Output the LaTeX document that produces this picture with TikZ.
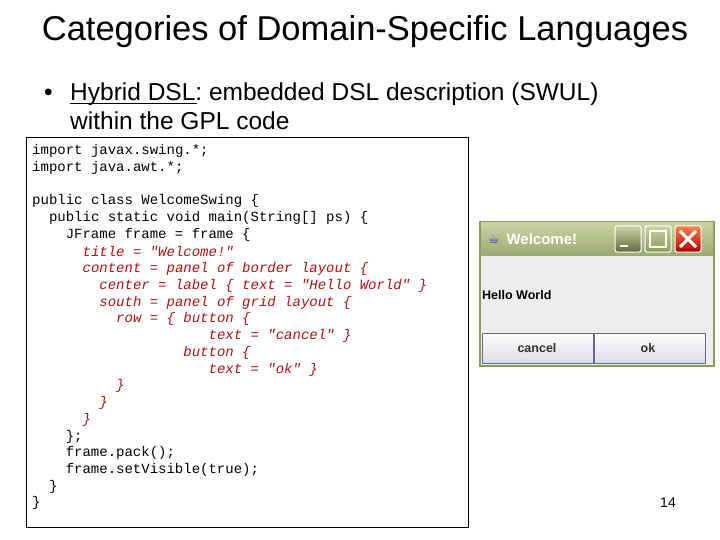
\documentclass[tikz,border=0pt]{standalone}
\usepackage{fontspec}
\setmainfont{Liberation Sans}
\setmonofont{Liberation Mono}
\newfontfamily\djv{DejaVu Sans}
\usepackage{xcolor}
\definecolor{codered}{HTML}{B01010}
\definecolor{olive1}{HTML}{C9D3A4}
\definecolor{olive2}{HTML}{8C9A5C}
\definecolor{winbg}{HTML}{EEEEEE}
\begin{document}
\begin{tikzpicture}[x=1pt,y=-1pt,
  codeline/.style={anchor=base west,inner sep=0pt,font=\fontsize{14}{16}\ttfamily},
  redline/.style={codeline,text=codered,font=\fontsize{14}{16}\ttfamily\itshape},
  tbtn/.style={draw=white,line width=1pt,rounded corners=2pt},
  btn/.style={draw=gray!80!blue,line width=1pt,top color=white,bottom color=blue!12!gray!25}]
\useasboundingbox (0,0) rectangle (720,540);
\node[font=\fontsize{34.5}{38}\selectfont] (title) at (365,32) {Categories of Domain-Specific Languages};
\node[font=\fontsize{24.5}{28}\selectfont,anchor=base west,inner sep=0pt] (bul) at (44,101) {•};
\node[font=\fontsize{24.5}{28}\selectfont,anchor=base west,inner sep=0pt] (txt1) at (70,101) {Hybrid DSL: embedded DSL description (SWUL)};
\node[font=\fontsize{24.5}{28}\selectfont,anchor=base west,inner sep=0pt] (txt2) at (70,130) {within the GPL code};
\draw[line width=1pt] (70,104) -- (197,104);
\draw[line width=1pt] (26,138) rectangle (468,527);
\newcommand\ind[1]{\hspace*{#1\dimexpr 8.4pt\relax}}
\node[codeline] (l1) at (32,155) {import javax.swing.*;};
\node[codeline] (l2) at (32,172) {import java.awt.*;};
\node[codeline] (l3) at (32,205) {public class WelcomeSwing \{};
\node[codeline] (l4) at (32,222) {\ind{2}public static void main(String[] ps) \{};
\node[codeline] (l5) at (32,239) {\ind{4}JFrame frame = frame \{};
\node[redline] (l6) at (32,256) {\ind{6}title = "Welcome!"};
\node[redline] (l7) at (32,272) {\ind{6}content = panel of border layout \{};
\node[redline] (l8) at (32,289) {\ind{8}center = label \{ text = "Hello World" \}};
\node[redline] (l9) at (32,306) {\ind{8}south = panel of grid layout \{};
\node[redline] (l10) at (32,322) {\ind{10}row = \{ button \{};
\node[redline] (l11) at (32,339) {\ind{21}text = "cancel" \}};
\node[redline] (l12) at (32,356) {\ind{18}button \{};
\node[redline] (l13) at (32,373) {\ind{21}text = "ok" \}};
\node[redline] (l14) at (32,389) {\ind{10}\}};
\node[redline] (l15) at (32,406) {\ind{8}\}};
\node[redline] (l16) at (32,423) {\ind{6}\}};
\node[codeline] (l17) at (32,440) {\ind{4}\};};
\node[codeline] (l18) at (32,456) {\ind{4}frame.pack();};
\node[codeline] (l19) at (32,473) {\ind{4}frame.setVisible(true);};
\node[codeline] (l20) at (32,490) {\ind{2}\}};
\node[codeline] (l21) at (32,506) {\}};
% window
\fill[olive2] (479,221) rectangle (715,367);
\fill[winbg] (481,256) rectangle (713,365);
\shade[top color=olive1,bottom color=olive2!85!white] (481,223) rectangle (713,255);
\node[font=\fontsize{15}{16}\bfseries,text=white,anchor=west] (wt) at (503,239) {Welcome!};
\node[text=blue!50!gray,font=\djv\fontsize{13}{14}\selectfont] (cup) at (494,239) {☕};
\draw[tbtn,top color=olive1,bottom color=olive2!70!black] (615,226) rectangle (641,252);
\draw[white,line width=2pt] (620,246) -- (628,246);
\draw[tbtn,top color=olive1,bottom color=olive2] (645,226) rectangle (671,252);
\draw[white,line width=1.5pt] (650,231) rectangle (666,247);
\draw[tbtn,top color=orange!60!red!70,bottom color=red!70!black] (675,226) rectangle (701,252);
\draw[white,line width=3pt] (680,231) -- (696,247) (696,231) -- (680,247);
\node[font=\fontsize{12.5}{14}\bfseries,anchor=west,inner sep=0pt] (hw) at (482,295) {Hello World};
\draw[btn] (482,333) rectangle (593,363);
\draw[btn] (594,333) rectangle (705,363);
\node[font=\fontsize{12.5}{14}\bfseries,text=black!80] (cb) at (537,348) {cancel};
\node[font=\fontsize{12.5}{14}\bfseries,text=black!80] (ob) at (648,348) {ok};
\node[font=\fontsize{14}{16}\selectfont] (pg) at (668,503) {14};
\end{tikzpicture}
\end{document}
